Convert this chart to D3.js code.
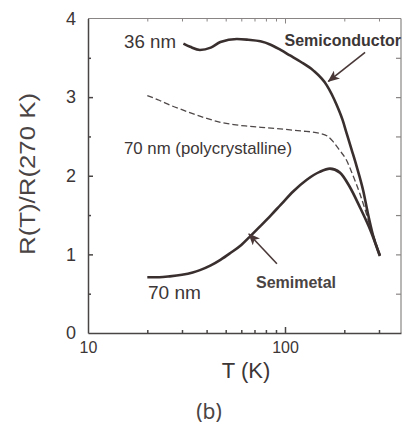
<!DOCTYPE html>
<html>
<head>
<meta charset="utf-8">
<script src="https://cdn.jsdelivr.net/npm/d3@7"></script>
<style>
  html, body { margin: 0; padding: 0; background: #ffffff; }
  svg { display: block; }
  text { font-family: "Liberation Sans", Arial, sans-serif; }
</style>
</head>
<body>
<svg id="chart" width="406" height="431"></svg>
<script>
// ---- data ----
const T_semiconductor = [30.5, 33, 37, 42, 47, 57, 65, 75, 84, 95, 106, 120, 139, 163, 183, 196, 205, 218, 231, 250, 263, 280, 303];
const R_semiconductor = [3.68, 3.64, 3.60, 3.63, 3.70, 3.74, 3.73, 3.71, 3.67, 3.60, 3.53, 3.45, 3.34, 3.15, 2.90, 2.71, 2.55, 2.33, 2.12, 1.80, 1.53, 1.24, 0.99];

const T_poly = [20, 23, 26, 30, 34, 40, 47, 55, 65, 80, 100, 120, 150, 165, 176, 190, 205, 220, 240, 255, 271, 290, 303];
const R_poly = [3.02, 2.96, 2.90, 2.84, 2.79, 2.73, 2.68, 2.65, 2.63, 2.61, 2.59, 2.57, 2.54, 2.50, 2.43, 2.32, 2.20, 2.02, 1.77, 1.57, 1.35, 1.14, 0.98];

const T_semimetal = [20, 23, 26, 30, 34, 37, 42, 47, 53, 60, 66, 75, 85, 95, 110, 129, 150, 169, 190, 213, 240, 271, 303];
const R_semimetal = [0.71, 0.71, 0.72, 0.74, 0.77, 0.80, 0.86, 0.93, 1.02, 1.12, 1.22, 1.36, 1.50, 1.63, 1.80, 1.95, 2.05, 2.09, 2.04, 1.86, 1.60, 1.31, 0.98];

const xTicks = [20, 30, 40, 50, 60, 70, 80, 90, 100, 200, 300];
const xTickLabels = [10, 100];
const yTicks = [0.5, 1, 1.5, 2, 2.5, 3, 3.5];
const yTickLabels = [0, 1, 2, 3, 4];

// arrows [tailT, tailR, tipT, tipR]
const arrowSemiconductor = [255, 3.57, 166, 3.20];
const arrowSemimetal = [91, 0.88, 65.6, 1.26];

// ---- layout ----
const svg = d3.select("#chart");
const x = d3.scaleLog().domain([10, 388]).range([88, 401]);
const y = d3.scaleLinear().domain([0, 4]).range([333, 18.5]);

const ink = "#3a2f2f";
const axisInk = "#4a4545";

// frame: top and right lighter
svg.append("line").attr("x1", x(10)).attr("x2", x(388)).attr("y1", y(4)).attr("y2", y(4))
  .attr("stroke", "#8a8585").attr("stroke-width", 1.2);
svg.append("line").attr("x1", x(388)).attr("x2", x(388)).attr("y1", y(4)).attr("y2", y(0))
  .attr("stroke", "#8a8585").attr("stroke-width", 1.2);

function styleAxis(g, col, w) {
  g.select(".domain").attr("stroke", col).attr("stroke-width", w);
  g.selectAll(".tick line").attr("stroke", col).attr("stroke-width", w);
}

// bottom axis, inward ticks
const gB = svg.append("g").attr("transform", `translate(0,${y(0)})`)
  .call(d3.axisTop(x).tickValues(xTicks).tickSize(3).tickSizeOuter(0).tickFormat(""));
gB.selectAll(".tick line").attr("y2", d => d === 100 ? -6 : -3);
styleAxis(gB, axisInk, 1.5);

// top axis ticks, inward
const gT = svg.append("g").attr("transform", `translate(0,${y(4)})`)
  .call(d3.axisBottom(x).tickValues(xTicks).tickSize(3).tickSizeOuter(0).tickFormat(""));
gT.select(".domain").remove();
gT.selectAll(".tick line").attr("y2", d => d === 100 ? 5 : 3).attr("stroke", "#8a8585");

// left axis, inward ticks
const gL = svg.append("g").attr("transform", `translate(${x(10)},0)`)
  .call(d3.axisRight(y).tickValues(yTicks).tickSize(4).tickSizeOuter(0).tickFormat(""));
gL.selectAll(".tick line").attr("x2", d => Number.isInteger(d) ? 5 : 3);
styleAxis(gL, axisInk, 1.5);

// right axis ticks, inward
const gR = svg.append("g").attr("transform", `translate(${x(388)},0)`)
  .call(d3.axisLeft(y).tickValues(yTicks).tickSize(5).tickSizeOuter(0).tickFormat(""));
gR.select(".domain").remove();
gR.selectAll(".tick line").attr("stroke", "#8a8585").attr("stroke-width", 1.2);

// tick labels
const gYL = svg.append("g").attr("transform", `translate(${x(10)},0)`)
  .call(d3.axisLeft(y).tickValues(yTickLabels).tickSize(0).tickPadding(12).tickFormat(d3.format("d")));
gYL.select(".domain").remove();
gYL.selectAll("text").attr("font-size", 18).attr("fill", "#3c3636")
  .attr("font-family", "Liberation Sans, Arial, sans-serif");

const gXL = svg.append("g").attr("transform", `translate(0,${y(0)})`)
  .call(d3.axisBottom(x).tickValues(xTickLabels).tickSize(0).tickPadding(9).tickFormat(d3.format("d")));
gXL.select(".domain").remove();
gXL.selectAll("text").attr("font-size", 16).attr("fill", "#3c3636")
  .attr("font-family", "Liberation Sans, Arial, sans-serif");

// axis titles
svg.append("text").attr("x", 246).attr("y", 378).attr("text-anchor", "middle")
  .attr("font-size", 22).attr("fill", "#3c3636").text("T (K)");
svg.append("text").attr("transform", "translate(35,174) rotate(-90)").attr("text-anchor", "middle")
  .attr("font-size", 22).attr("fill", "#4a4444")
  .attr("textLength", 162).attr("lengthAdjust", "spacingAndGlyphs").text("R(T)/R(270 K)");
svg.append("text").attr("x", 209).attr("y", 419).attr("text-anchor", "middle")
  .attr("font-size", 21).attr("fill", "#4a4444").style("font-family", "'Noto Sans', 'DejaVu Sans', sans-serif")
  .text("(b)");

// curves
const line = d3.line().x(d => x(d[0])).y(d => y(d[1])).curve(d3.curveMonotoneX);
const zip = (a, b) => a.map((v, i) => [v, b[i]]);

svg.append("path").datum(zip(T_poly, R_poly)).attr("d", line)
  .attr("fill", "none").attr("stroke", "#4f4848").attr("stroke-width", 1.3)
  .attr("stroke-dasharray", "6,3");
svg.append("path").datum(zip(T_semimetal, R_semimetal)).attr("d", line)
  .attr("fill", "none").attr("stroke", ink).attr("stroke-width", 2.6);
svg.append("path").datum(zip(T_semiconductor, R_semiconductor)).attr("d", line)
  .attr("fill", "none").attr("stroke", ink).attr("stroke-width", 2.6);

// arrows
svg.append("defs").append("marker").attr("id", "ah")
  .attr("viewBox", "0 0 12 10").attr("refX", 11).attr("refY", 5)
  .attr("markerWidth", 12).attr("markerHeight", 10).attr("markerUnits", "userSpaceOnUse")
  .attr("orient", "auto")
  .append("path").attr("d", "M0,0 L12,5 L0,10 L3,5 Z").attr("fill", "#4a3838");
[arrowSemiconductor, arrowSemimetal].forEach(a => {
  svg.append("line").attr("x1", x(a[0])).attr("y1", y(a[1])).attr("x2", x(a[2])).attr("y2", y(a[3]))
    .attr("stroke", "#4a3838").attr("stroke-width", 1.6).attr("marker-end", "url(#ah)");
});

// annotations
svg.append("text").attr("x", 124).attr("y", 48).attr("font-size", 18).attr("fill", "#3c3636")
  .attr("textLength", 52).attr("lengthAdjust", "spacingAndGlyphs").text("36 nm");
svg.append("text").attr("x", 401).attr("y", 46).attr("text-anchor", "end").attr("font-size", 16)
  .attr("font-weight", "bold").attr("fill", "#3c3636").text("Semiconductor");
svg.append("text").attr("x", 124).attr("y", 154).attr("font-size", 17).attr("fill", "#3c3636")
  .attr("textLength", 168).attr("lengthAdjust", "spacingAndGlyphs").text("70 nm (polycrystalline)");
svg.append("text").attr("x", 148).attr("y", 299).attr("font-size", 18).attr("fill", "#3c3636")
  .attr("textLength", 53).attr("lengthAdjust", "spacingAndGlyphs").text("70 nm");
svg.append("text").attr("x", 256).attr("y", 288).attr("font-size", 16)
  .attr("font-weight", "bold").attr("fill", "#4a4444").text("Semimetal");
</script>
</body>
</html>
